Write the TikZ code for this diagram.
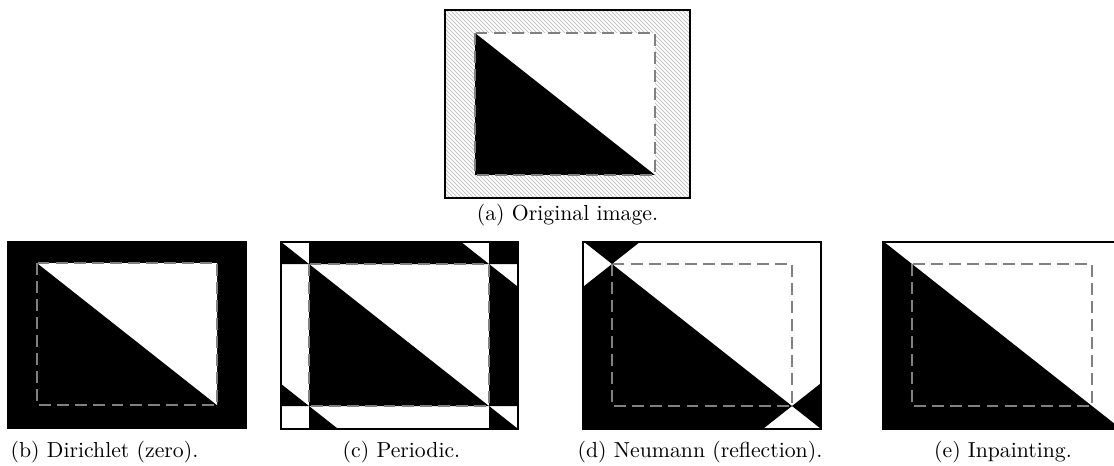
\documentclass[tikz,border=0pt]{standalone}
\begin{document}
\begin{tikzpicture}[
  x=0.46pt, y=-0.46pt,
  every node/.style={inner sep=0pt, font=\normalsize},
  frame/.style={draw=black, line width=0.5pt},
  border/.style={draw=gray, line width=0.7pt, dash pattern=on 5.5pt off 2.8pt},
  hatch/.style={draw=gray!45, line width=0.45pt}
  ]

\clip (0,0) rectangle (1114,466);

% ORIGINAL image, hatched unknown band
\begin{scope}[shift={(475,33)}]
  \begin{scope}
    \clip (-30,-23) rectangle (215,165);
    \foreach \i in {-228,-224,...,212}
      \draw[hatch] (\i,-30) -- ++(200,200);
  \end{scope}
  \fill[white] (0,0) rectangle (180,142);
  \fill[black] (0,0) -- (0,142) -- (180,142) -- cycle;
  \draw[frame, line width=0.7pt] (-30,-23) rectangle (215,165);
  \draw[border] (0,0) rectangle (180,142);
\end{scope}
\node[anchor=base] (capa) at (567.5,220) {(a) Original image.};

% DIRICHLET (zero)
\begin{scope}[shift={(37,263)}]
  \fill[black] (-30,-22) rectangle (210,166);
  \fill[white] (0,0) -- (180,0) -- (180,142) -- cycle;
  \draw[border] (0,0) rectangle (180,142);
\end{scope}
\node[anchor=base] (capb) at (104.5,457) {(b) Dirichlet (zero).};

% PERIODIC
\begin{scope}[shift={(309,264)}]
  \begin{scope}
    \clip (-28,-22) rectangle (209,165);
    \fill[white] (-28,-22) rectangle (209,165);
    \foreach \k in {-1,0,1}
      \foreach \l in {-1,0,1}
        \fill[black, shift={(\k*180,\l*142)}] (0,0) -- (0,142) -- (180,142) -- cycle;
  \end{scope}
  \draw[frame] (-28,-22) rectangle (209,165);
  \draw[border] (0,0) rectangle (180,142);
\end{scope}
\node[anchor=base] (capc) at (401.5,457) {(c) Periodic.};

% NEUMANN (reflection)
\begin{scope}[shift={(612,264)}]
  \begin{scope}
    \clip (-29,-22) rectangle (209,165);
    \fill[white] (-29,-22) rectangle (209,165);
    \foreach \k in {-1,0,1}
      \foreach \l in {-1,0,1}
        \fill[black, shift={({(\k+abs(\k))*180},{(\l+abs(\l))*142})},
              xscale={1-2*abs(\k)}, yscale={1-2*abs(\l)}]
          (0,0) -- (0,142) -- (180,142) -- cycle;
  \end{scope}
  \draw[frame] (-29,-22) rectangle (209,165);
  \draw[border] (0,0) rectangle (180,142);
\end{scope}
\node[anchor=base] (capd) at (700,457) {(d) Neumann (reflection).};

% INPAINTING
\begin{scope}[shift={(912,264)}]
  \begin{scope}
    \clip (-29,-22) rectangle (211,165);
    \fill[white] (-29,-22) rectangle (211,165);
    \fill[black] (-60,-47.33) -- (260,205.11) -- (-60,205.11) -- cycle;
  \end{scope}
  \draw[frame] (-29,-22) rectangle (211,165);
  \draw[border] (0,0) rectangle (180,142);
\end{scope}
\node[anchor=base] (cape) at (1003,457) {(e) Inpainting.};

\end{tikzpicture}
\end{document}
